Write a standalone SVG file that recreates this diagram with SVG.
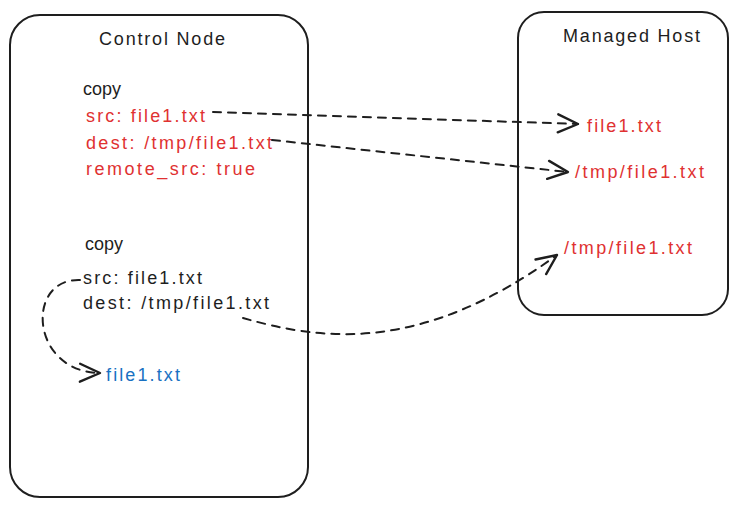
<svg xmlns="http://www.w3.org/2000/svg" width="738" height="507" viewBox="0 0 738 507">
<defs>
<style>
.box{fill:#fff;stroke:#1e1e1e;stroke-width:2}
.t{font-family:"Liberation Sans",Arial,sans-serif;font-size:18px;fill:#1e1e1e}
.r{fill:#e03131}
.b{fill:#1971c2}
.c{fill:none;stroke:#1e1e1e;stroke-width:2;stroke-dasharray:8 7;stroke-linecap:round}
</style>
<marker id="ah" markerUnits="userSpaceOnUse" markerWidth="30" markerHeight="30" refX="25" refY="15" orient="auto" viewBox="0 0 30 30">
<path d="M5,6 L25,15 L5,24" fill="none" stroke="#1e1e1e" stroke-width="2.4" stroke-linecap="round" stroke-linejoin="round"/>
</marker>
</defs>
<rect width="738" height="507" fill="#fff"/>
<g id="control-node">
<rect class="box" x="10" y="15" width="298" height="482" rx="30"/>
<text class="t" x="99" y="45" textLength="126" lengthAdjust="spacing">Control Node</text>
<text class="t" x="83" y="95" textLength="38" lengthAdjust="spacing">copy</text>
<text class="t r" x="86" y="122" textLength="119" lengthAdjust="spacing">src: file1.txt</text>
<text class="t r" x="86" y="149" textLength="186" lengthAdjust="spacing">dest: /tmp/file1.txt</text>
<text class="t r" x="86" y="175" textLength="169" lengthAdjust="spacing">remote_src: true</text>
<text class="t" x="85" y="250" textLength="38" lengthAdjust="spacing">copy</text>
<text class="t" x="83" y="284" textLength="119" lengthAdjust="spacing">src: file1.txt</text>
<text class="t" x="83" y="309" textLength="186" lengthAdjust="spacing">dest: /tmp/file1.txt</text>
<text class="t b" x="106" y="381" textLength="74" lengthAdjust="spacing">file1.txt</text>
</g>
<g id="managed-host">
<rect class="box" x="518" y="12" width="210" height="303" rx="26"/>
<text class="t" x="563" y="42" textLength="137" lengthAdjust="spacing">Managed Host</text>
<text class="t r" x="587" y="132" textLength="74" lengthAdjust="spacing">file1.txt</text>
<text class="t r" x="575" y="178" textLength="129" lengthAdjust="spacing">/tmp/file1.txt</text>
<text class="t r" x="564" y="254" textLength="128" lengthAdjust="spacing">/tmp/file1.txt</text>
</g>
<g id="connectors">
<path class="c" d="M213,112 L578,124" marker-end="url(#ah)"/>
<path class="c" d="M272,140 L568,172" marker-end="url(#ah)"/>
<path class="c" d="M243,318 C320,340 420,355 557,255" marker-end="url(#ah)"/>
<path class="c" d="M80,280 C25,278 30,372 100,373" marker-end="url(#ah)"/>
</g>
</svg>
